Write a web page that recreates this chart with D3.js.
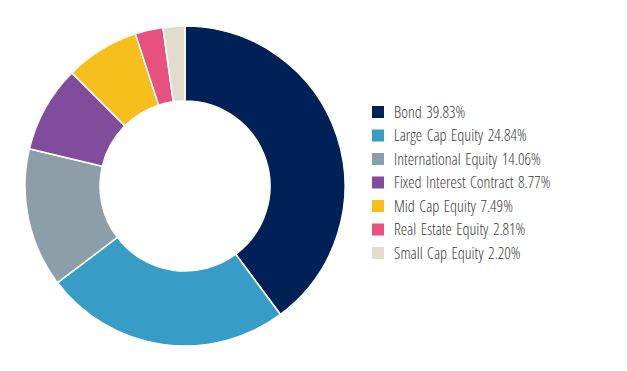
<!DOCTYPE html>
<html>
<head>
<meta charset="utf-8">
<script src="https://cdn.jsdelivr.net/npm/d3@7"></script>
<style>
  body { margin: 0; background: #fff; }
  svg text { font-family: "Open Sans", sans-serif; font-stretch: 75%; font-weight: 300; fill: #3a3a3a; word-spacing: 1.5px; }
</style>
</head>
<body>
<svg id="chart" width="627" height="371"></svg>
<script>
// Asset allocation values
var categories = ["Bond", "Large Cap Equity", "International Equity", "Fixed Interest Contract",
                  "Mid Cap Equity", "Real Estate Equity", "Small Cap Equity"];
var shares = [39.83, 24.84, 14.06, 8.77, 7.49, 2.81, 2.20];
var colors = ["#002157", "#389dc6", "#8c9fa8", "#814c9b", "#f6bf1b", "#e8507f", "#e2dccd"];

var svg = d3.select("#chart");
var cx = 185, cy = 186;
var outerR = 160, innerR = 85;

var data = categories.map(function (c, i) { return { name: c, value: shares[i] }; });

var pie = d3.pie().sort(null).value(function (d) { return d.value; });
var arc = d3.arc().innerRadius(innerR).outerRadius(outerR);

// Donut
svg.append("g")
    .attr("transform", "translate(" + cx + "," + cy + ")")
    .selectAll("path")
    .data(pie(data))
    .enter()
    .append("path")
    .attr("d", arc)
    .style("fill", function (d, i) { return colors[i]; })
    .style("stroke", "#fff")
    .style("stroke-width", 1.5);

// Legend
var legend = svg.append("g").attr("transform", "translate(372,112)");
var rowY = d3.scalePoint().domain(categories).range([0, 141]);

var rows = legend.selectAll("g")
    .data(data)
    .enter()
    .append("g")
    .attr("transform", function (d) { return "translate(0," + rowY(d.name) + ")"; });

rows.append("rect")
    .attr("x", 0)
    .attr("y", -6)
    .attr("width", 12)
    .attr("height", 12)
    .style("fill", function (d, i) { return colors[i]; });

var labels = rows.append("text")
    .attr("x", 22)
    .attr("dy", "0.35em")
    .style("font-size", "16px")
    .text(function (d) { return d.name + " " + d.value.toFixed(2) + "%"; });

// squeeze labels to the condensed width of the original if the font has no narrow face
var want = 158;
var widest = d3.max(labels.nodes(), function (n) { return n.getComputedTextLength(); });
if (widest > want + 4) {
    var k = want / widest;
    labels.attr("transform", "translate(22,0) scale(" + k + ",1) translate(-22,0)");
}
</script>
</body>
</html>
